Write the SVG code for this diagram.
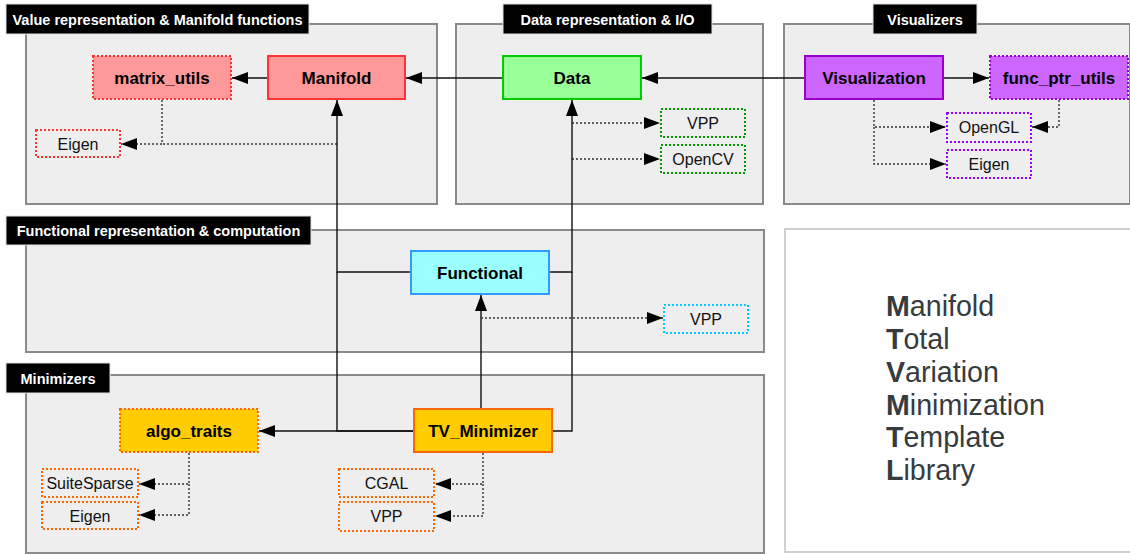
<svg xmlns="http://www.w3.org/2000/svg" width="1130" height="554" viewBox="0 0 1130 554">
<defs>
<marker id="arr" markerUnits="userSpaceOnUse" markerWidth="16" markerHeight="12" refX="16" refY="6" orient="auto">
<path d="M0,0 L16,6 L0,12 z" fill="#000"/>
</marker>
<style>
.grp{fill:#eeeeee;stroke:#8a8a8a;stroke-width:2}
.ttl{fill:#000;stroke:#e0e0e0;stroke-width:1}
.ttxt{font-family:"Liberation Sans",Arial,sans-serif;font-weight:bold;font-size:14.5px;fill:#fff;text-anchor:middle}
.ntxt{font-family:"Liberation Sans",Arial,sans-serif;font-weight:bold;font-size:17px;fill:#000;text-anchor:middle}
.stxt{font-family:"Liberation Sans",Arial,sans-serif;font-size:16px;fill:#111;text-anchor:middle}
.dot{stroke-dasharray:2 2}
.c{fill:none;stroke:#111;stroke-width:1.4}
.cd{fill:none;stroke:#333;stroke-width:1.4;stroke-dasharray:2 2}
.big{font-family:"Liberation Sans",Arial,sans-serif;font-size:28.6px;fill:#363b3d}
</style>
</defs>
<rect width="1130" height="554" fill="#fff"/>
<g id="groups">
<rect class="grp" x="26" y="24" width="411" height="180"/>
<rect class="grp" x="456" y="24" width="307" height="180"/>
<rect class="grp" x="784" y="24" width="346" height="180"/>
<rect class="grp" x="26" y="230" width="738" height="122"/>
<rect class="grp" x="26" y="375" width="738" height="178"/>
<rect x="785" y="229" width="347" height="323" fill="#fff" stroke="#d0d0d0" stroke-width="2"/>
</g>
<g id="titles">
<rect class="ttl" x="6" y="4" width="303" height="30"/>
<text class="ttxt" x="157.5" y="24.5">Value representation &amp; Manifold functions</text>
<rect class="ttl" x="503" y="4" width="209" height="30"/>
<text class="ttxt" x="607.5" y="24.5">Data representation &amp; I/O</text>
<rect class="ttl" x="873" y="4" width="104" height="30"/>
<text class="ttxt" x="925" y="24.5">Visualizers</text>
<rect class="ttl" x="6" y="216" width="305" height="29"/>
<text class="ttxt" x="158.5" y="236">Functional representation &amp; computation</text>
<rect class="ttl" x="6" y="363" width="104" height="30"/>
<text class="ttxt" x="58" y="383.5">Minimizers</text>
</g>
<g id="connectors">
<path class="c" d="M503,78 H406" marker-end="url(#arr)"/>
<path class="c" d="M268,78 H232" marker-end="url(#arr)"/>
<path class="c" d="M805,78 H642" marker-end="url(#arr)"/>
<path class="c" d="M943,78 H989" marker-end="url(#arr)"/>
<path class="cd" d="M162,100 V144 H121" marker-end="url(#arr)"/>
<path class="cd" d="M337,144 H162"/>
<path class="cd" d="M572,123 H660" marker-end="url(#arr)"/>
<path class="cd" d="M572,159 H660" marker-end="url(#arr)"/>
<path class="cd" d="M874,100 V127 H946" marker-end="url(#arr)"/>
<path class="cd" d="M874,127 V164 H946" marker-end="url(#arr)"/>
<path class="cd" d="M1059,100 V127 H1032" marker-end="url(#arr)"/>
<path class="c" d="M411,272 H337 V100" marker-end="url(#arr)"/>
<path class="c" d="M550,272 H572 V100" marker-end="url(#arr)"/>
<path class="c" d="M414,431 H337 V272"/>
<path class="c" d="M552,431 H572 V272"/>
<path class="c" d="M414,431 H259" marker-end="url(#arr)"/>
<path class="c" d="M481,409 V295" marker-end="url(#arr)"/>
<path class="cd" d="M481,318 H663" marker-end="url(#arr)"/>
<path class="cd" d="M189,453 V484 H139" marker-end="url(#arr)"/>
<path class="cd" d="M189,484 V515 H139" marker-end="url(#arr)"/>
<path class="cd" d="M483,453 V484 H435" marker-end="url(#arr)"/>
<path class="cd" d="M483,484 V516 H435" marker-end="url(#arr)"/>
</g>
<g id="matrix_utils"><rect class="dot" x="93" y="56" width="138" height="43" fill="#ff9999" stroke="#ff3333" stroke-width="2"/><text class="ntxt" x="162" y="84">matrix_utils</text></g>
<g id="Manifold"><rect x="268" y="56" width="137" height="43" fill="#ff9999" stroke="#ff3333" stroke-width="2"/><text class="ntxt" x="336.5" y="84">Manifold</text></g>
<g id="Eigen1"><rect class="dot" x="36" y="130" width="84" height="27" fill="none" stroke="#ff3333" stroke-width="2"/><text class="stxt" x="78" y="149.5">Eigen</text></g>
<g id="Data"><rect x="503" y="56" width="138" height="43" fill="#99ff99" stroke="#00cc00" stroke-width="2"/><text class="ntxt" x="572" y="84">Data</text></g>
<g id="VPP1"><rect class="dot" x="661" y="109" width="84" height="28" fill="none" stroke="#009900" stroke-width="2"/><text class="stxt" x="703" y="129">VPP</text></g>
<g id="OpenCV"><rect class="dot" x="661" y="145" width="84" height="28" fill="none" stroke="#009900" stroke-width="2"/><text class="stxt" x="703" y="165">OpenCV</text></g>
<g id="Visualization"><rect x="805" y="56" width="138" height="43" fill="#cc66ff" stroke="#9900cc" stroke-width="2"/><text class="ntxt" x="874" y="84">Visualization</text></g>
<g id="func_ptr_utils"><rect class="dot" x="990" y="56" width="138" height="43" fill="#cc66ff" stroke="#9900cc" stroke-width="2"/><text class="ntxt" x="1059" y="84">func_ptr_utils</text></g>
<g id="OpenGL"><rect class="dot" x="947" y="113" width="84" height="29" fill="none" stroke="#9900ff" stroke-width="2"/><text class="stxt" x="989" y="133">OpenGL</text></g>
<g id="Eigen2"><rect class="dot" x="947" y="150" width="84" height="28" fill="none" stroke="#9900ff" stroke-width="2"/><text class="stxt" x="989" y="170">Eigen</text></g>
<g id="Functional"><rect x="411" y="251" width="138" height="43" fill="#99ffff" stroke="#3399ff" stroke-width="2"/><text class="ntxt" x="480" y="279">Functional</text></g>
<g id="VPP2"><rect class="dot" x="664" y="305" width="84" height="28" fill="none" stroke="#00ccff" stroke-width="2"/><text class="stxt" x="706" y="325">VPP</text></g>
<g id="algo_traits"><rect class="dot" x="120" y="409" width="138" height="43" fill="#ffcc00" stroke="#ff6600" stroke-width="2"/><text class="ntxt" x="189" y="437">algo_traits</text></g>
<g id="TV_Minimizer"><rect x="414" y="409" width="138" height="43" fill="#ffcc00" stroke="#ff6600" stroke-width="2"/><text class="ntxt" x="483" y="437">TV_Minimizer</text></g>
<g id="SuiteSparse"><rect class="dot" x="42" y="469" width="96" height="28" fill="none" stroke="#ff6600" stroke-width="2"/><text class="stxt" x="90" y="489">SuiteSparse</text></g>
<g id="Eigen3"><rect class="dot" x="42" y="502" width="96" height="27" fill="none" stroke="#ff6600" stroke-width="2"/><text class="stxt" x="90" y="521.5">Eigen</text></g>
<g id="CGAL"><rect class="dot" x="339" y="469" width="95" height="28" fill="none" stroke="#ff6600" stroke-width="2"/><text class="stxt" x="386.5" y="489">CGAL</text></g>
<g id="VPP3"><rect class="dot" x="339" y="502" width="95" height="29" fill="none" stroke="#ff6600" stroke-width="2"/><text class="stxt" x="386.5" y="522">VPP</text></g>
<g id="legend">
<text class="big" x="886" y="316"><tspan font-weight="bold">M</tspan>anifold</text>
<text class="big" x="886" y="349"><tspan font-weight="bold">T</tspan>otal</text>
<text class="big" x="886" y="382"><tspan font-weight="bold">V</tspan>ariation</text>
<text class="big" x="886" y="414.5"><tspan font-weight="bold">M</tspan>inimization</text>
<text class="big" x="886" y="447"><tspan font-weight="bold">T</tspan>emplate</text>
<text class="big" x="886" y="479.5"><tspan font-weight="bold">L</tspan>ibrary</text>
</g>
</svg>
